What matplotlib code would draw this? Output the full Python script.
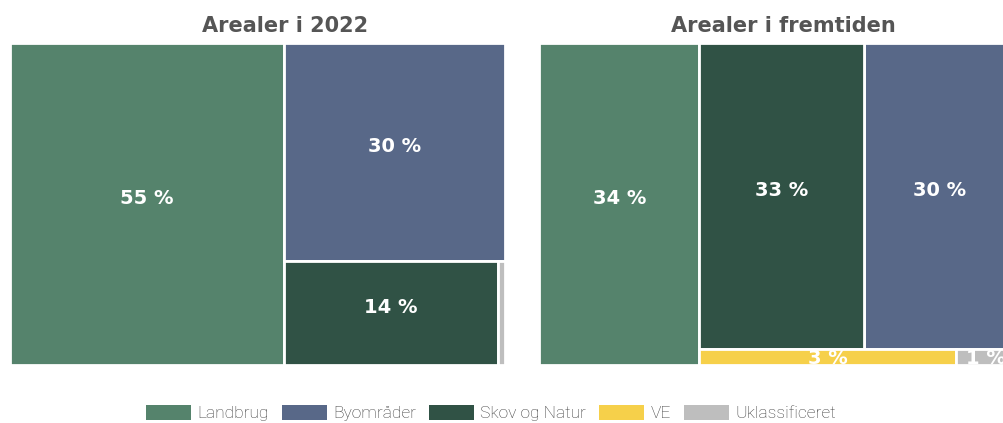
import matplotlib.pyplot as plt
from matplotlib.patches import Rectangle, Patch

categories = ["Landbrug", "Byområder", "Skov og Natur", "VE", "Uklassificeret"]
colors = ["#55836c", "#586888", "#305245", "#f6d04a", "#bebebe"]

share_2022 = [55.4, 30.2, 13.9, 0.0, 0.5]
share_future = [33.6, 30.4, 33.1, 2.6, 0.6]

# how the tiles are nested (slice and dice, alternating direction)
tree_2022 = ["Landbrug", ["Byområder", ["Skov og Natur", "Uklassificeret"]]]
tree_future = ["Landbrug", [["Skov og Natur", "Byområder"], ["VE", "Uklassificeret"]]]

titles = ["Arealer i 2022", "Arealer i fremtiden"]

FONT = "DejaVu Sans"


def size(node, vals):
    if isinstance(node, str):
        return vals[node]
    return sum(size(n, vals) for n in node)


def layout(node, vals, x, y, w, h, horizontal, out):
    if isinstance(node, str):
        out[node] = (x, y, w, h)
        return
    total = size(node, vals)
    for child in node:
        s = size(child, vals) / total
        if horizontal:
            layout(child, vals, x, y, w * s, h, not horizontal, out)
            x += w * s
        else:
            layout(child, vals, x, y, w, h * s, not horizontal, out)
            y += h * s


def treemap(ax, tree, shares, W, H):
    vals = dict(zip(categories, shares))
    rects = {}
    layout(tree, vals, 0, 0, W, H, True, rects)
    ax.set_xlim(0, W)
    ax.set_ylim(H, 0)
    ax.set_axis_off()
    for cat, col in zip(categories, colors):
        if cat not in rects:
            continue
        x, y, w, h = rects[cat]
        r = Rectangle((x, y), w, h, facecolor=col, edgecolor="white", lw=2.0)
        ax.add_patch(r)
        if w < 20:
            continue
        cy = y + h / 2
        if cy - 14 < y:
            ty, va = y, "top"
        else:
            ty, va = cy, "baseline"
        t = ax.text(x + w / 2, ty, f"{vals[cat]:.0f} %", ha="center", va=va,
                    color="white", fontsize=14, fontweight="bold", family=FONT)
        t.set_clip_path(r)


fig = plt.figure(figsize=(10.04, 4.23), dpi=100)
FW, FH = 1004, 423

ax1 = fig.add_axes([9.5 / FW, (FH - 364.5) / FH, 496 / FW, 321 / FH])
treemap(ax1, tree_2022, share_2022, 496, 321)
ax2 = fig.add_axes([539.5 / FW, (FH - 364.5) / FH, 476 / FW, 321 / FH])
treemap(ax2, tree_future, share_future, 476, 321)

fig.text(285 / FW, (FH - 32) / FH, titles[0], ha="center", va="baseline",
         fontsize=15, fontweight="bold", color="#555555", family=FONT)
fig.text(783 / FW, (FH - 32) / FH, titles[1], ha="center", va="baseline",
         fontsize=15, fontweight="bold", color="#555555", family=FONT)

handles = [Patch(facecolor=c, edgecolor="none", label=l) for c, l in zip(colors, categories)]
fig.legend(handles=handles, loc="center", bbox_to_anchor=(491 / FW, (FH - 413) / FH),
           ncol=5, frameon=False, handlelength=2.6, handleheight=1.0,
           handletextpad=0.35, columnspacing=0.75, labelcolor="#3a3a3a",
           prop={"family": "Roboto", "weight": "light", "size": 12.5})

fig.savefig("out.png", dpi=100)
